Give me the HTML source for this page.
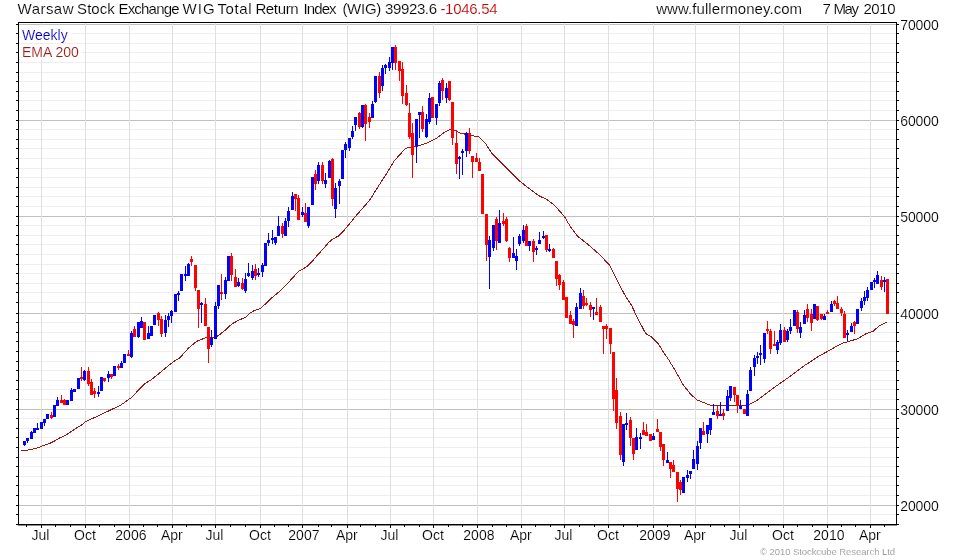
<!DOCTYPE html>
<html><head><meta charset="utf-8"><title>WIG</title>
<style>
html,body{margin:0;padding:0;background:#fff;}
body{width:980px;height:560px;overflow:hidden;font-family:"Liberation Sans",sans-serif;}
svg{display:block;will-change:transform;opacity:0.999}
svg text{font-family:"Liberation Sans",sans-serif;stroke:#fff;stroke-width:0.15px;}
</style></head><body>
<svg width="980" height="560" viewBox="0 0 980 560">
<rect width="980" height="560" fill="#fff"/>
<g stroke="#eeeeee" stroke-width="1" shape-rendering="crispEdges">
<line x1="19" y1="514.5" x2="896" y2="514.5"/><line x1="19" y1="495.5" x2="896" y2="495.5"/><line x1="19" y1="485.5" x2="896" y2="485.5"/><line x1="19" y1="476.5" x2="896" y2="476.5"/><line x1="19" y1="466.5" x2="896" y2="466.5"/><line x1="19" y1="457.5" x2="896" y2="457.5"/><line x1="19" y1="447.5" x2="896" y2="447.5"/><line x1="19" y1="437.5" x2="896" y2="437.5"/><line x1="19" y1="428.5" x2="896" y2="428.5"/><line x1="19" y1="418.5" x2="896" y2="418.5"/><line x1="19" y1="399.5" x2="896" y2="399.5"/><line x1="19" y1="389.5" x2="896" y2="389.5"/><line x1="19" y1="380.5" x2="896" y2="380.5"/><line x1="19" y1="370.5" x2="896" y2="370.5"/><line x1="19" y1="361.5" x2="896" y2="361.5"/><line x1="19" y1="351.5" x2="896" y2="351.5"/><line x1="19" y1="341.5" x2="896" y2="341.5"/><line x1="19" y1="332.5" x2="896" y2="332.5"/><line x1="19" y1="322.5" x2="896" y2="322.5"/><line x1="19" y1="302.5" x2="896" y2="302.5"/><line x1="19" y1="292.5" x2="896" y2="292.5"/><line x1="19" y1="283.5" x2="896" y2="283.5"/><line x1="19" y1="273.5" x2="896" y2="273.5"/><line x1="19" y1="264.5" x2="896" y2="264.5"/><line x1="19" y1="254.5" x2="896" y2="254.5"/><line x1="19" y1="244.5" x2="896" y2="244.5"/><line x1="19" y1="235.5" x2="896" y2="235.5"/><line x1="19" y1="225.5" x2="896" y2="225.5"/><line x1="19" y1="206.5" x2="896" y2="206.5"/><line x1="19" y1="196.5" x2="896" y2="196.5"/><line x1="19" y1="187.5" x2="896" y2="187.5"/><line x1="19" y1="177.5" x2="896" y2="177.5"/><line x1="19" y1="168.5" x2="896" y2="168.5"/><line x1="19" y1="158.5" x2="896" y2="158.5"/><line x1="19" y1="148.5" x2="896" y2="148.5"/><line x1="19" y1="139.5" x2="896" y2="139.5"/><line x1="19" y1="129.5" x2="896" y2="129.5"/><line x1="19" y1="110.5" x2="896" y2="110.5"/><line x1="19" y1="100.5" x2="896" y2="100.5"/><line x1="19" y1="91.5" x2="896" y2="91.5"/><line x1="19" y1="81.5" x2="896" y2="81.5"/><line x1="19" y1="72.5" x2="896" y2="72.5"/><line x1="19" y1="62.5" x2="896" y2="62.5"/><line x1="19" y1="52.5" x2="896" y2="52.5"/><line x1="19" y1="43.5" x2="896" y2="43.5"/><line x1="19" y1="33.5" x2="896" y2="33.5"/>
</g>
<g stroke="#c0c0c0" stroke-width="1" shape-rendering="crispEdges">
<line x1="19" y1="505.5" x2="896" y2="505.5"/><line x1="19" y1="409.5" x2="896" y2="409.5"/><line x1="19" y1="313.5" x2="896" y2="313.5"/><line x1="19" y1="216.5" x2="896" y2="216.5"/><line x1="19" y1="120.5" x2="896" y2="120.5"/><line x1="19" y1="24.5" x2="896" y2="24.5"/>
</g>
<g stroke="#dfdfdf" stroke-width="1" shape-rendering="crispEdges">
<line x1="41.5" y1="23" x2="41.5" y2="524"/><line x1="85.5" y1="23" x2="85.5" y2="524"/><line x1="129.5" y1="23" x2="129.5" y2="524"/><line x1="172.5" y1="23" x2="172.5" y2="524"/><line x1="215.5" y1="23" x2="215.5" y2="524"/><line x1="260.5" y1="23" x2="260.5" y2="524"/><line x1="302.5" y1="23" x2="302.5" y2="524"/><line x1="347.5" y1="23" x2="347.5" y2="524"/><line x1="390.5" y1="23" x2="390.5" y2="524"/><line x1="433.5" y1="23" x2="433.5" y2="524"/><line x1="477.5" y1="23" x2="477.5" y2="524"/><line x1="521.5" y1="23" x2="521.5" y2="524"/><line x1="564.5" y1="23" x2="564.5" y2="524"/><line x1="608.5" y1="23" x2="608.5" y2="524"/><line x1="653.5" y1="23" x2="653.5" y2="524"/><line x1="695.5" y1="23" x2="695.5" y2="524"/><line x1="739.5" y1="23" x2="739.5" y2="524"/><line x1="783.5" y1="23" x2="783.5" y2="524"/><line x1="827.5" y1="23" x2="827.5" y2="524"/><line x1="870.5" y1="23" x2="870.5" y2="524"/>
</g>
<rect x="19" y="26" width="52" height="17" fill="#fff"/><rect x="19" y="44" width="63" height="15.5" fill="#fff"/>
<polyline points="21.0,450.5 26.0,450.4 30.0,449.7 34.0,448.7 38.0,447.7 41.5,446.3 45.0,445.0 48.0,444.0 51.0,442.8 54.0,441.3 57.0,439.6 60.0,437.8 63.0,436.5 66.0,435.0 69.0,433.0 72.0,431.0 75.0,429.0 78.0,427.0 81.0,425.5 85.9,421.5 98.0,416.0 112.0,409.3 120.9,405.0 130.9,397.9 145.0,383.6 150.9,380.0 158.0,374.3 162.3,370.7 173.7,361.4 179.4,358.3 188.0,348.6 196.6,341.4 206.6,337.4 215.1,337.9 220.9,333.6 226.0,329.6 232.0,323.8 240.0,319.6 245.7,317.5 249.4,313.4 253.6,311.0 260.9,308.3 270.9,298.6 280.9,290.3 289.4,281.4 298.6,271.4 302.9,268.9 307.1,266.4 312.9,260.7 317.1,255.4 322.9,249.3 328.6,242.6 332.9,238.9 338.6,236.0 344.3,230.0 347.9,225.7 357.9,213.6 369.3,200.7 377.9,187.0 387.0,172.9 394.3,160.7 405.7,148.3 417.0,146.4 427.0,142.9 437.0,137.9 444.3,132.4 448.6,130.0 452.0,129.0 460.0,132.9 468.6,135.0 478.6,136.9 485.7,143.6 491.4,152.9 501.4,162.9 508.6,170.0 520.0,181.4 532.9,191.4 540.0,196.4 545.7,198.6 554.3,205.0 564.3,216.4 570.0,226.0 577.0,235.7 588.6,245.0 600.0,255.0 610.0,265.7 619.3,285.0 625.7,296.4 631.4,305.0 637.0,317.0 645.7,333.6 651.4,336.7 658.6,344.3 664.3,353.6 667.0,357.0 675.7,371.4 682.9,384.3 690.0,393.6 697.0,400.0 710.0,405.0 725.7,406.0 747.0,405.3 755.7,401.4 764.3,395.0 775.7,386.4 790.0,376.4 804.3,365.7 818.6,356.4 830.0,350.0 841.4,343.6 848.6,341.4 857.0,339.0 865.7,333.9 872.9,331.4 878.6,326.4 887.0,321.9" fill="none" stroke="#9a1616" stroke-width="1" stroke-linejoin="round" shape-rendering="crispEdges"/>
<g fill="#0000ff" shape-rendering="crispEdges">
<rect x="24.00" y="441.0" width="1" height="5.4"/><rect x="23.00" y="441.0" width="3" height="3.6"/>
<rect x="27.00" y="438.3" width="1" height="4.2"/><rect x="26.00" y="438.3" width="3" height="2.7"/>
<rect x="31.00" y="431.0" width="1" height="7.5"/><rect x="30.00" y="431.7" width="3" height="6.8"/>
<rect x="34.00" y="428.3" width="1" height="5.0"/><rect x="33.00" y="428.3" width="3" height="5.0"/>
<rect x="37.00" y="423.0" width="1" height="6.7"/><rect x="36.00" y="427.9" width="3" height="1.8"/>
<rect x="41.00" y="422.0" width="1" height="7.3"/><rect x="40.00" y="422.0" width="3" height="7.3"/>
<rect x="44.00" y="418.9" width="1" height="7.5"/><rect x="43.00" y="418.9" width="3" height="4.1"/>
<rect x="47.00" y="413.6" width="1" height="5.7"/><rect x="46.00" y="413.6" width="3" height="5.7"/>
<rect x="54.00" y="404.7" width="1" height="12.0"/><rect x="53.00" y="404.7" width="3" height="12.0"/>
<rect x="57.00" y="396.9" width="1" height="8.8"/><rect x="56.00" y="399.7" width="3" height="6.0"/>
<rect x="67.00" y="400.0" width="1" height="4.7"/><rect x="66.00" y="400.0" width="3" height="4.7"/>
<rect x="71.00" y="388.3" width="1" height="12.4"/><rect x="70.00" y="390.0" width="3" height="10.7"/>
<rect x="74.00" y="388.9" width="1" height="3.2"/><rect x="73.00" y="388.9" width="3" height="3.2"/>
<rect x="78.00" y="377.9" width="1" height="11.0"/><rect x="77.00" y="377.9" width="3" height="11.0"/>
<rect x="84.00" y="370.0" width="1" height="10.6"/><rect x="83.00" y="371.4" width="3" height="8.9"/>
<rect x="98.00" y="386.4" width="1" height="10.3"/><rect x="97.00" y="392.0" width="3" height="1.6"/>
<rect x="101.00" y="377.0" width="1" height="13.7"/><rect x="100.00" y="377.0" width="3" height="13.7"/>
<rect x="108.00" y="371.4" width="1" height="10.3"/><rect x="107.00" y="374.3" width="3" height="3.6"/>
<rect x="114.00" y="366.0" width="1" height="9.7"/><rect x="113.00" y="366.0" width="3" height="9.7"/>
<rect x="121.00" y="361.0" width="1" height="6.9"/><rect x="120.00" y="362.9" width="3" height="5.0"/>
<rect x="124.00" y="354.0" width="1" height="8.9"/><rect x="123.00" y="354.0" width="3" height="8.9"/>
<rect x="131.00" y="330.7" width="1" height="27.2"/><rect x="130.00" y="332.9" width="3" height="24.1"/>
<rect x="138.00" y="321.7" width="1" height="16.6"/><rect x="137.00" y="321.7" width="3" height="15.7"/>
<rect x="141.00" y="317.0" width="1" height="10.9"/><rect x="140.00" y="321.4" width="3" height="6.5"/>
<rect x="148.00" y="326.0" width="1" height="12.9"/><rect x="147.00" y="333.0" width="3" height="5.9"/>
<rect x="151.00" y="326.0" width="1" height="9.7"/><rect x="150.00" y="326.0" width="3" height="9.7"/>
<rect x="154.00" y="314.7" width="1" height="10.0"/><rect x="153.00" y="314.7" width="3" height="10.0"/>
<rect x="165.00" y="315.0" width="1" height="21.9"/><rect x="164.00" y="320.0" width="3" height="12.6"/>
<rect x="168.00" y="313.3" width="1" height="13.6"/><rect x="167.00" y="315.7" width="3" height="4.3"/>
<rect x="171.00" y="310.0" width="1" height="12.9"/><rect x="170.00" y="310.7" width="3" height="5.3"/>
<rect x="175.00" y="293.6" width="1" height="18.1"/><rect x="174.00" y="294.3" width="3" height="17.4"/>
<rect x="178.00" y="290.7" width="1" height="10.0"/><rect x="177.00" y="292.6" width="3" height="2.4"/>
<rect x="181.00" y="273.6" width="1" height="17.1"/><rect x="180.00" y="273.6" width="3" height="17.1"/>
<rect x="185.00" y="265.7" width="1" height="15.0"/><rect x="184.00" y="274.0" width="3" height="2.0"/>
<rect x="188.00" y="262.9" width="1" height="12.8"/><rect x="187.00" y="263.6" width="3" height="12.1"/>
<rect x="201.00" y="302.0" width="1" height="20.9"/><rect x="200.00" y="302.6" width="3" height="2.0"/>
<rect x="211.00" y="330.0" width="1" height="16.9"/><rect x="210.00" y="338.3" width="3" height="7.1"/>
<rect x="215.00" y="301.7" width="1" height="37.2"/><rect x="214.00" y="305.7" width="3" height="33.2"/>
<rect x="218.00" y="284.6" width="1" height="24.1"/><rect x="217.00" y="284.6" width="3" height="21.4"/>
<rect x="225.00" y="277.0" width="1" height="22.3"/><rect x="224.00" y="280.0" width="3" height="14.0"/>
<rect x="228.00" y="256.4" width="1" height="25.0"/><rect x="227.00" y="256.4" width="3" height="25.0"/>
<rect x="238.00" y="278.3" width="1" height="8.7"/><rect x="237.00" y="282.0" width="3" height="4.4"/>
<rect x="245.00" y="273.0" width="1" height="19.9"/><rect x="244.00" y="278.9" width="3" height="11.8"/>
<rect x="248.00" y="262.9" width="1" height="14.0"/><rect x="247.00" y="273.0" width="3" height="3.4"/>
<rect x="252.00" y="265.4" width="1" height="14.6"/><rect x="251.00" y="271.0" width="3" height="6.9"/>
<rect x="258.00" y="268.3" width="1" height="8.6"/><rect x="257.00" y="273.0" width="3" height="2.4"/>
<rect x="262.00" y="263.0" width="1" height="13.9"/><rect x="261.00" y="265.0" width="3" height="7.0"/>
<rect x="265.00" y="242.6" width="1" height="23.1"/><rect x="264.00" y="242.6" width="3" height="23.1"/>
<rect x="268.00" y="233.3" width="1" height="13.1"/><rect x="267.00" y="240.0" width="3" height="2.9"/>
<rect x="272.00" y="230.0" width="1" height="13.6"/><rect x="271.00" y="237.9" width="3" height="2.1"/>
<rect x="275.00" y="237.0" width="1" height="8.0"/><rect x="274.00" y="237.0" width="3" height="5.9"/>
<rect x="278.00" y="216.0" width="1" height="19.7"/><rect x="277.00" y="226.0" width="3" height="9.7"/>
<rect x="285.00" y="217.9" width="1" height="18.1"/><rect x="284.00" y="221.0" width="3" height="15.0"/>
<rect x="288.00" y="207.0" width="1" height="19.7"/><rect x="287.00" y="210.7" width="3" height="10.3"/>
<rect x="292.00" y="191.9" width="1" height="18.1"/><rect x="291.00" y="195.7" width="3" height="14.3"/>
<rect x="302.00" y="207.0" width="1" height="9.7"/><rect x="301.00" y="212.0" width="3" height="3.0"/>
<rect x="308.00" y="206.7" width="1" height="21.2"/><rect x="307.00" y="206.7" width="3" height="19.0"/>
<rect x="312.00" y="177.0" width="1" height="28.0"/><rect x="311.00" y="177.0" width="3" height="28.0"/>
<rect x="318.00" y="161.9" width="1" height="21.7"/><rect x="317.00" y="165.0" width="3" height="16.4"/>
<rect x="325.00" y="172.9" width="1" height="15.0"/><rect x="324.00" y="180.0" width="3" height="4.3"/>
<rect x="329.00" y="160.0" width="1" height="17.9"/><rect x="328.00" y="161.4" width="3" height="16.5"/>
<rect x="335.00" y="183.3" width="1" height="34.6"/><rect x="334.00" y="187.9" width="3" height="21.1"/>
<rect x="339.00" y="179.0" width="1" height="24.9"/><rect x="338.00" y="181.0" width="3" height="4.7"/>
<rect x="342.00" y="150.0" width="1" height="29.0"/><rect x="341.00" y="150.0" width="3" height="29.0"/>
<rect x="345.00" y="141.9" width="1" height="16.0"/><rect x="344.00" y="144.0" width="3" height="6.0"/>
<rect x="349.00" y="137.9" width="1" height="13.1"/><rect x="348.00" y="137.9" width="3" height="10.0"/>
<rect x="352.00" y="125.7" width="1" height="13.3"/><rect x="351.00" y="130.7" width="3" height="6.3"/>
<rect x="355.00" y="117.0" width="1" height="14.4"/><rect x="354.00" y="117.0" width="3" height="8.0"/>
<rect x="362.00" y="105.0" width="1" height="23.0"/><rect x="361.00" y="105.0" width="3" height="22.0"/>
<rect x="372.00" y="101.0" width="1" height="16.9"/><rect x="371.00" y="103.6" width="3" height="14.3"/>
<rect x="375.00" y="76.0" width="1" height="26.9"/><rect x="374.00" y="76.0" width="3" height="25.9"/>
<rect x="382.00" y="65.0" width="1" height="25.7"/><rect x="381.00" y="68.0" width="3" height="17.7"/>
<rect x="385.00" y="64.0" width="1" height="9.6"/><rect x="384.00" y="65.0" width="3" height="2.9"/>
<rect x="389.00" y="57.0" width="1" height="13.7"/><rect x="388.00" y="62.0" width="3" height="5.9"/>
<rect x="392.00" y="47.0" width="1" height="22.7"/><rect x="391.00" y="47.0" width="3" height="15.9"/>
<rect x="416.00" y="119.0" width="1" height="43.9"/><rect x="415.00" y="119.0" width="3" height="27.0"/>
<rect x="419.00" y="111.9" width="1" height="26.0"/><rect x="418.00" y="112.4" width="3" height="2.3"/>
<rect x="426.00" y="113.6" width="1" height="24.3"/><rect x="425.00" y="119.0" width="3" height="18.0"/>
<rect x="429.00" y="92.9" width="1" height="31.1"/><rect x="428.00" y="97.9" width="3" height="24.1"/>
<rect x="436.00" y="104.3" width="1" height="20.7"/><rect x="435.00" y="104.3" width="3" height="13.6"/>
<rect x="439.00" y="81.0" width="1" height="24.7"/><rect x="438.00" y="82.9" width="3" height="20.0"/>
<rect x="446.00" y="82.9" width="1" height="20.0"/><rect x="445.00" y="87.9" width="3" height="10.0"/>
<rect x="459.00" y="155.7" width="1" height="22.9"/><rect x="458.00" y="156.7" width="3" height="1.9"/>
<rect x="462.00" y="149.0" width="1" height="26.0"/><rect x="461.00" y="150.7" width="3" height="2.6"/>
<rect x="466.00" y="131.9" width="1" height="25.1"/><rect x="465.00" y="132.9" width="3" height="17.8"/>
<rect x="489.00" y="235.7" width="1" height="52.9"/><rect x="488.00" y="240.0" width="3" height="16.7"/>
<rect x="493.00" y="225.0" width="1" height="25.7"/><rect x="492.00" y="225.0" width="3" height="22.6"/>
<rect x="499.00" y="210.0" width="1" height="32.9"/><rect x="498.00" y="222.9" width="3" height="20.0"/>
<rect x="513.00" y="237.0" width="1" height="20.9"/><rect x="512.00" y="253.3" width="3" height="4.3"/>
<rect x="516.00" y="249.0" width="1" height="20.6"/><rect x="515.00" y="256.0" width="3" height="4.7"/>
<rect x="519.00" y="233.9" width="1" height="11.8"/><rect x="518.00" y="236.0" width="3" height="7.9"/>
<rect x="523.00" y="225.0" width="1" height="17.9"/><rect x="522.00" y="230.4" width="3" height="10.3"/>
<rect x="529.00" y="241.0" width="1" height="10.4"/><rect x="528.00" y="241.0" width="3" height="5.0"/>
<rect x="536.00" y="246.4" width="1" height="8.3"/><rect x="535.00" y="247.9" width="3" height="2.1"/>
<rect x="539.00" y="231.9" width="1" height="12.4"/><rect x="538.00" y="240.0" width="3" height="3.9"/>
<rect x="543.00" y="231.0" width="1" height="8.0"/><rect x="542.00" y="235.7" width="3" height="2.3"/>
<rect x="549.00" y="243.9" width="1" height="8.1"/><rect x="548.00" y="249.0" width="3" height="2.0"/>
<rect x="576.00" y="303.3" width="1" height="22.4"/><rect x="575.00" y="307.0" width="3" height="18.7"/>
<rect x="580.00" y="288.0" width="1" height="20.6"/><rect x="579.00" y="292.9" width="3" height="15.7"/>
<rect x="593.00" y="307.0" width="1" height="12.7"/><rect x="592.00" y="307.0" width="3" height="2.0"/>
<rect x="623.00" y="424.3" width="1" height="41.4"/><rect x="622.00" y="424.3" width="3" height="37.4"/>
<rect x="626.00" y="413.3" width="1" height="16.4"/><rect x="625.00" y="422.6" width="3" height="2.0"/>
<rect x="636.00" y="428.3" width="1" height="21.4"/><rect x="635.00" y="437.4" width="3" height="12.3"/>
<rect x="640.00" y="433.0" width="1" height="15.6"/><rect x="639.00" y="436.9" width="3" height="2.0"/>
<rect x="653.00" y="433.0" width="1" height="6.7"/><rect x="652.00" y="436.0" width="3" height="3.7"/>
<rect x="667.00" y="452.0" width="1" height="10.6"/><rect x="666.00" y="460.3" width="3" height="2.3"/>
<rect x="683.00" y="476.9" width="1" height="15.7"/><rect x="682.00" y="476.9" width="3" height="15.7"/>
<rect x="687.00" y="470.3" width="1" height="11.4"/><rect x="686.00" y="475.4" width="3" height="2.5"/>
<rect x="690.00" y="471.4" width="1" height="7.2"/><rect x="689.00" y="471.4" width="3" height="2.2"/>
<rect x="693.00" y="450.3" width="1" height="18.3"/><rect x="692.00" y="459.3" width="3" height="9.3"/>
<rect x="697.00" y="441.4" width="1" height="28.3"/><rect x="696.00" y="446.0" width="3" height="17.6"/>
<rect x="700.00" y="428.3" width="1" height="20.3"/><rect x="699.00" y="428.3" width="3" height="14.3"/>
<rect x="707.00" y="425.4" width="1" height="17.2"/><rect x="706.00" y="425.4" width="3" height="8.2"/>
<rect x="710.00" y="418.0" width="1" height="17.4"/><rect x="709.00" y="418.0" width="3" height="11.7"/>
<rect x="713.00" y="403.9" width="1" height="10.8"/><rect x="712.00" y="411.9" width="3" height="2.8"/>
<rect x="720.00" y="402.0" width="1" height="13.7"/><rect x="719.00" y="414.0" width="3" height="1.7"/>
<rect x="727.00" y="390.4" width="1" height="20.3"/><rect x="726.00" y="395.7" width="3" height="15.0"/>
<rect x="730.00" y="386.0" width="1" height="14.7"/><rect x="729.00" y="386.0" width="3" height="11.6"/>
<rect x="740.00" y="400.0" width="1" height="8.6"/><rect x="739.00" y="406.4" width="3" height="2.2"/>
<rect x="747.00" y="390.4" width="1" height="25.6"/><rect x="746.00" y="393.9" width="3" height="22.1"/>
<rect x="750.00" y="367.0" width="1" height="23.7"/><rect x="749.00" y="369.6" width="3" height="21.1"/>
<rect x="754.00" y="355.0" width="1" height="20.7"/><rect x="753.00" y="357.9" width="3" height="8.8"/>
<rect x="757.00" y="352.0" width="1" height="12.3"/><rect x="756.00" y="356.0" width="3" height="1.9"/>
<rect x="760.00" y="345.0" width="1" height="19.7"/><rect x="759.00" y="352.9" width="3" height="2.1"/>
<rect x="764.00" y="332.9" width="1" height="30.0"/><rect x="763.00" y="332.9" width="3" height="25.7"/>
<rect x="777.00" y="340.0" width="1" height="13.6"/><rect x="776.00" y="342.4" width="3" height="7.6"/>
<rect x="780.00" y="324.0" width="1" height="21.0"/><rect x="779.00" y="329.6" width="3" height="13.3"/>
<rect x="787.00" y="329.3" width="1" height="12.6"/><rect x="786.00" y="331.4" width="3" height="8.6"/>
<rect x="790.00" y="319.0" width="1" height="14.9"/><rect x="789.00" y="327.0" width="3" height="4.0"/>
<rect x="794.00" y="309.7" width="1" height="16.0"/><rect x="793.00" y="309.7" width="3" height="16.0"/>
<rect x="800.00" y="322.0" width="1" height="15.6"/><rect x="799.00" y="327.0" width="3" height="5.9"/>
<rect x="804.00" y="310.0" width="1" height="13.6"/><rect x="803.00" y="315.0" width="3" height="8.6"/>
<rect x="814.00" y="304.0" width="1" height="15.0"/><rect x="813.00" y="304.0" width="3" height="15.0"/>
<rect x="824.00" y="313.9" width="1" height="5.7"/><rect x="823.00" y="315.7" width="3" height="3.9"/>
<rect x="831.00" y="301.0" width="1" height="10.9"/><rect x="830.00" y="304.0" width="3" height="7.9"/>
<rect x="847.00" y="330.0" width="1" height="10.7"/><rect x="846.00" y="332.9" width="3" height="1.8"/>
<rect x="851.00" y="322.9" width="1" height="9.0"/><rect x="850.00" y="325.7" width="3" height="6.2"/>
<rect x="857.00" y="309.0" width="1" height="15.3"/><rect x="856.00" y="309.0" width="3" height="15.3"/>
<rect x="861.00" y="297.9" width="1" height="12.8"/><rect x="860.00" y="301.0" width="3" height="7.0"/>
<rect x="864.00" y="291.0" width="1" height="14.0"/><rect x="863.00" y="297.0" width="3" height="4.4"/>
<rect x="867.00" y="287.0" width="1" height="13.7"/><rect x="866.00" y="290.0" width="3" height="7.6"/>
<rect x="871.00" y="281.9" width="1" height="8.1"/><rect x="870.00" y="281.9" width="3" height="8.1"/>
<rect x="874.00" y="278.0" width="1" height="9.9"/><rect x="873.00" y="280.0" width="3" height="2.0"/>
<rect x="877.00" y="271.0" width="1" height="12.6"/><rect x="876.00" y="275.0" width="3" height="8.6"/>
<rect x="884.00" y="276.7" width="1" height="15.2"/><rect x="883.00" y="279.6" width="3" height="2.3"/>
</g>
<g fill="#ff0000" shape-rendering="crispEdges">
<rect x="51.00" y="412.0" width="1" height="6.6"/><rect x="50.00" y="415.0" width="3" height="3.3"/>
<rect x="61.00" y="395.4" width="1" height="7.2"/><rect x="60.00" y="400.0" width="3" height="2.6"/>
<rect x="64.00" y="399.3" width="1" height="5.4"/><rect x="63.00" y="400.0" width="3" height="4.7"/>
<rect x="81.00" y="366.8" width="1" height="13.9"/><rect x="80.00" y="377.0" width="3" height="2.0"/>
<rect x="88.00" y="366.8" width="1" height="18.9"/><rect x="87.00" y="370.7" width="3" height="13.6"/>
<rect x="91.00" y="379.3" width="1" height="16.1"/><rect x="90.00" y="382.0" width="3" height="13.4"/>
<rect x="94.00" y="387.9" width="1" height="9.7"/><rect x="93.00" y="390.7" width="3" height="2.9"/>
<rect x="104.00" y="378.3" width="1" height="3.2"/><rect x="103.00" y="378.3" width="3" height="2.7"/>
<rect x="111.00" y="373.6" width="1" height="5.3"/><rect x="110.00" y="373.6" width="3" height="3.4"/>
<rect x="118.00" y="364.0" width="1" height="5.7"/><rect x="117.00" y="365.7" width="3" height="2.2"/>
<rect x="128.00" y="350.0" width="1" height="5.7"/><rect x="127.00" y="354.0" width="3" height="1.7"/>
<rect x="134.00" y="326.0" width="1" height="10.9"/><rect x="133.00" y="328.6" width="3" height="8.3"/>
<rect x="144.00" y="321.7" width="1" height="18.0"/><rect x="143.00" y="321.7" width="3" height="18.0"/>
<rect x="158.00" y="311.9" width="1" height="13.8"/><rect x="157.00" y="312.9" width="3" height="6.8"/>
<rect x="161.00" y="316.0" width="1" height="20.9"/><rect x="160.00" y="318.6" width="3" height="15.4"/>
<rect x="191.00" y="255.7" width="1" height="10.7"/><rect x="190.00" y="258.6" width="3" height="3.4"/>
<rect x="195.00" y="265.0" width="1" height="25.7"/><rect x="194.00" y="265.0" width="3" height="22.9"/>
<rect x="198.00" y="290.0" width="1" height="37.9"/><rect x="197.00" y="290.0" width="3" height="18.7"/>
<rect x="205.00" y="297.9" width="1" height="28.1"/><rect x="204.00" y="304.0" width="3" height="22.0"/>
<rect x="208.00" y="326.9" width="1" height="36.0"/><rect x="207.00" y="326.9" width="3" height="22.0"/>
<rect x="221.00" y="274.0" width="1" height="25.7"/><rect x="220.00" y="292.0" width="3" height="2.0"/>
<rect x="231.00" y="253.0" width="1" height="27.7"/><rect x="230.00" y="256.0" width="3" height="19.0"/>
<rect x="235.00" y="269.3" width="1" height="17.6"/><rect x="234.00" y="277.0" width="3" height="9.9"/>
<rect x="242.00" y="278.3" width="1" height="11.7"/><rect x="241.00" y="282.9" width="3" height="5.7"/>
<rect x="255.00" y="264.3" width="1" height="15.7"/><rect x="254.00" y="269.0" width="3" height="7.4"/>
<rect x="282.00" y="222.9" width="1" height="15.0"/><rect x="281.00" y="226.0" width="3" height="7.9"/>
<rect x="295.00" y="194.3" width="1" height="17.1"/><rect x="294.00" y="194.3" width="3" height="4.3"/>
<rect x="298.00" y="195.0" width="1" height="25.0"/><rect x="297.00" y="197.9" width="3" height="22.1"/>
<rect x="305.00" y="202.9" width="1" height="19.0"/><rect x="304.00" y="213.3" width="3" height="8.6"/>
<rect x="315.00" y="170.0" width="1" height="20.0"/><rect x="314.00" y="173.9" width="3" height="9.7"/>
<rect x="322.00" y="162.0" width="1" height="21.6"/><rect x="321.00" y="165.0" width="3" height="16.0"/>
<rect x="332.00" y="158.0" width="1" height="47.7"/><rect x="331.00" y="158.6" width="3" height="40.4"/>
<rect x="359.00" y="111.9" width="1" height="17.1"/><rect x="358.00" y="112.9" width="3" height="14.1"/>
<rect x="365.00" y="103.6" width="1" height="37.4"/><rect x="364.00" y="104.7" width="3" height="18.9"/>
<rect x="369.00" y="112.9" width="1" height="15.1"/><rect x="368.00" y="117.0" width="3" height="4.9"/>
<rect x="379.00" y="72.0" width="1" height="25.9"/><rect x="378.00" y="75.7" width="3" height="17.2"/>
<rect x="395.00" y="45.0" width="1" height="24.7"/><rect x="394.00" y="47.0" width="3" height="15.9"/>
<rect x="399.00" y="61.0" width="1" height="19.7"/><rect x="398.00" y="61.4" width="3" height="9.3"/>
<rect x="402.00" y="62.0" width="1" height="42.0"/><rect x="401.00" y="69.0" width="3" height="26.7"/>
<rect x="406.00" y="85.0" width="1" height="20.7"/><rect x="405.00" y="92.9" width="3" height="12.1"/>
<rect x="409.00" y="102.9" width="1" height="36.1"/><rect x="408.00" y="112.9" width="3" height="24.1"/>
<rect x="412.00" y="122.9" width="1" height="55.0"/><rect x="411.00" y="132.9" width="3" height="22.1"/>
<rect x="422.00" y="105.7" width="1" height="26.3"/><rect x="421.00" y="111.9" width="3" height="17.1"/>
<rect x="432.00" y="97.0" width="1" height="20.9"/><rect x="431.00" y="97.0" width="3" height="20.9"/>
<rect x="442.00" y="77.9" width="1" height="22.1"/><rect x="441.00" y="80.0" width="3" height="10.7"/>
<rect x="449.00" y="81.4" width="1" height="19.6"/><rect x="448.00" y="81.4" width="3" height="18.6"/>
<rect x="452.00" y="101.9" width="1" height="43.1"/><rect x="451.00" y="101.9" width="3" height="36.0"/>
<rect x="456.00" y="130.0" width="1" height="43.6"/><rect x="455.00" y="143.0" width="3" height="20.6"/>
<rect x="469.00" y="127.9" width="1" height="26.0"/><rect x="468.00" y="133.0" width="3" height="17.7"/>
<rect x="472.00" y="156.0" width="1" height="21.9"/><rect x="471.00" y="156.0" width="3" height="5.9"/>
<rect x="476.00" y="152.9" width="1" height="9.5"/><rect x="475.00" y="157.9" width="3" height="4.5"/>
<rect x="479.00" y="157.9" width="1" height="12.8"/><rect x="478.00" y="161.9" width="3" height="8.8"/>
<rect x="482.00" y="173.6" width="1" height="40.0"/><rect x="481.00" y="173.6" width="3" height="40.0"/>
<rect x="486.00" y="214.0" width="1" height="46.7"/><rect x="485.00" y="214.0" width="3" height="30.7"/>
<rect x="496.00" y="216.9" width="1" height="32.7"/><rect x="495.00" y="218.6" width="3" height="22.1"/>
<rect x="503.00" y="212.9" width="1" height="13.5"/><rect x="502.00" y="221.0" width="3" height="3.3"/>
<rect x="506.00" y="217.0" width="1" height="25.0"/><rect x="505.00" y="218.6" width="3" height="22.4"/>
<rect x="509.00" y="246.7" width="1" height="15.2"/><rect x="508.00" y="247.9" width="3" height="10.0"/>
<rect x="526.00" y="224.0" width="1" height="21.7"/><rect x="525.00" y="226.0" width="3" height="19.7"/>
<rect x="533.00" y="239.0" width="1" height="22.9"/><rect x="532.00" y="241.0" width="3" height="11.4"/>
<rect x="546.00" y="235.0" width="1" height="16.9"/><rect x="545.00" y="235.0" width="3" height="14.6"/>
<rect x="553.00" y="247.6" width="1" height="10.3"/><rect x="552.00" y="248.6" width="3" height="9.3"/>
<rect x="556.00" y="261.0" width="1" height="24.7"/><rect x="555.00" y="261.0" width="3" height="17.6"/>
<rect x="559.00" y="273.6" width="1" height="16.0"/><rect x="558.00" y="274.7" width="3" height="10.0"/>
<rect x="563.00" y="280.0" width="1" height="20.4"/><rect x="562.00" y="281.9" width="3" height="18.5"/>
<rect x="566.00" y="297.0" width="1" height="20.9"/><rect x="565.00" y="297.0" width="3" height="20.9"/>
<rect x="570.00" y="311.4" width="1" height="12.5"/><rect x="569.00" y="315.0" width="3" height="8.9"/>
<rect x="573.00" y="319.3" width="1" height="18.6"/><rect x="572.00" y="321.4" width="3" height="3.3"/>
<rect x="583.00" y="290.4" width="1" height="18.2"/><rect x="582.00" y="296.0" width="3" height="10.4"/>
<rect x="586.00" y="298.0" width="1" height="8.0"/><rect x="585.00" y="303.3" width="3" height="1.7"/>
<rect x="590.00" y="302.0" width="1" height="14.7"/><rect x="589.00" y="305.3" width="3" height="4.3"/>
<rect x="596.00" y="298.0" width="1" height="16.7"/><rect x="595.00" y="312.0" width="3" height="2.7"/>
<rect x="600.00" y="305.0" width="1" height="16.9"/><rect x="599.00" y="306.7" width="3" height="15.2"/>
<rect x="603.00" y="326.0" width="1" height="27.6"/><rect x="602.00" y="326.0" width="3" height="2.6"/>
<rect x="606.00" y="323.9" width="1" height="14.7"/><rect x="605.00" y="326.0" width="3" height="2.6"/>
<rect x="610.00" y="328.0" width="1" height="25.6"/><rect x="609.00" y="328.0" width="3" height="15.6"/>
<rect x="613.00" y="352.0" width="1" height="59.4"/><rect x="612.00" y="352.0" width="3" height="47.0"/>
<rect x="616.00" y="378.0" width="1" height="50.6"/><rect x="615.00" y="390.4" width="3" height="32.2"/>
<rect x="620.00" y="412.0" width="1" height="47.7"/><rect x="619.00" y="415.7" width="3" height="38.9"/>
<rect x="630.00" y="417.0" width="1" height="28.7"/><rect x="629.00" y="420.0" width="3" height="17.9"/>
<rect x="633.00" y="437.9" width="1" height="21.8"/><rect x="632.00" y="437.9" width="3" height="15.7"/>
<rect x="643.00" y="422.0" width="1" height="13.0"/><rect x="642.00" y="430.3" width="3" height="4.7"/>
<rect x="646.00" y="424.0" width="1" height="12.4"/><rect x="645.00" y="432.0" width="3" height="4.4"/>
<rect x="650.00" y="434.3" width="1" height="6.4"/><rect x="649.00" y="434.3" width="3" height="6.4"/>
<rect x="657.00" y="419.0" width="1" height="12.7"/><rect x="656.00" y="429.3" width="3" height="2.4"/>
<rect x="660.00" y="432.0" width="1" height="18.7"/><rect x="659.00" y="432.0" width="3" height="14.9"/>
<rect x="663.00" y="444.3" width="1" height="22.1"/><rect x="662.00" y="444.3" width="3" height="15.4"/>
<rect x="670.00" y="462.0" width="1" height="15.6"/><rect x="669.00" y="462.0" width="3" height="6.6"/>
<rect x="673.00" y="460.3" width="1" height="11.7"/><rect x="672.00" y="465.4" width="3" height="6.6"/>
<rect x="677.00" y="472.0" width="1" height="29.7"/><rect x="676.00" y="472.0" width="3" height="16.6"/>
<rect x="680.00" y="480.0" width="1" height="14.6"/><rect x="679.00" y="481.7" width="3" height="8.0"/>
<rect x="703.00" y="422.0" width="1" height="12.6"/><rect x="702.00" y="431.0" width="3" height="3.6"/>
<rect x="717.00" y="405.7" width="1" height="12.9"/><rect x="716.00" y="411.0" width="3" height="4.7"/>
<rect x="723.00" y="409.3" width="1" height="10.3"/><rect x="722.00" y="413.3" width="3" height="2.4"/>
<rect x="734.00" y="387.0" width="1" height="14.9"/><rect x="733.00" y="387.0" width="3" height="7.7"/>
<rect x="737.00" y="395.0" width="1" height="17.9"/><rect x="736.00" y="395.0" width="3" height="10.7"/>
<rect x="744.00" y="409.0" width="1" height="4.6"/><rect x="743.00" y="409.0" width="3" height="4.6"/>
<rect x="767.00" y="321.0" width="1" height="12.6"/><rect x="766.00" y="328.6" width="3" height="2.1"/>
<rect x="770.00" y="329.0" width="1" height="24.6"/><rect x="769.00" y="330.7" width="3" height="18.6"/>
<rect x="774.00" y="331.0" width="1" height="14.7"/><rect x="773.00" y="343.6" width="3" height="2.1"/>
<rect x="784.00" y="327.0" width="1" height="14.9"/><rect x="783.00" y="329.6" width="3" height="12.3"/>
<rect x="797.00" y="310.0" width="1" height="22.9"/><rect x="796.00" y="311.9" width="3" height="17.1"/>
<rect x="807.00" y="304.3" width="1" height="17.6"/><rect x="806.00" y="308.6" width="3" height="9.3"/>
<rect x="811.00" y="309.0" width="1" height="21.7"/><rect x="810.00" y="313.9" width="3" height="9.0"/>
<rect x="817.00" y="306.0" width="1" height="15.0"/><rect x="816.00" y="306.0" width="3" height="13.6"/>
<rect x="821.00" y="313.6" width="1" height="6.4"/><rect x="820.00" y="313.6" width="3" height="5.0"/>
<rect x="827.00" y="310.0" width="1" height="3.9"/><rect x="826.00" y="311.9" width="3" height="2.0"/>
<rect x="834.00" y="299.6" width="1" height="6.4"/><rect x="833.00" y="300.7" width="3" height="2.9"/>
<rect x="837.00" y="296.0" width="1" height="13.3"/><rect x="836.00" y="303.3" width="3" height="6.0"/>
<rect x="841.00" y="306.7" width="1" height="9.0"/><rect x="840.00" y="308.6" width="3" height="4.3"/>
<rect x="844.00" y="311.0" width="1" height="26.9"/><rect x="843.00" y="313.6" width="3" height="24.3"/>
<rect x="854.00" y="320.7" width="1" height="13.2"/><rect x="853.00" y="321.9" width="3" height="3.8"/>
<rect x="881.00" y="275.7" width="1" height="14.3"/><rect x="880.00" y="280.0" width="3" height="6.7"/>
<rect x="887.00" y="279.0" width="1" height="34.6"/><rect x="886.00" y="279.0" width="3" height="34.6"/>
</g>
<g stroke="#000" stroke-width="1" shape-rendering="crispEdges">
<line x1="18.5" y1="22" x2="18.5" y2="525"/><line x1="896.5" y1="22" x2="896.5" y2="525"/><line x1="18" y1="22.5" x2="897" y2="22.5"/><line x1="18" y1="525.5" x2="897" y2="525.5" stroke="#8a8a8a"/><line x1="16" y1="524.5" x2="899" y2="524.5"/>
<line x1="16" y1="514.5" x2="18" y2="514.5"/><line x1="897" y1="514.5" x2="899" y2="514.5"/><line x1="16" y1="505.5" x2="18" y2="505.5"/><line x1="897" y1="505.5" x2="899" y2="505.5"/><line x1="16" y1="495.5" x2="18" y2="495.5"/><line x1="897" y1="495.5" x2="899" y2="495.5"/><line x1="16" y1="485.5" x2="18" y2="485.5"/><line x1="897" y1="485.5" x2="899" y2="485.5"/><line x1="16" y1="476.5" x2="18" y2="476.5"/><line x1="897" y1="476.5" x2="899" y2="476.5"/><line x1="16" y1="466.5" x2="18" y2="466.5"/><line x1="897" y1="466.5" x2="899" y2="466.5"/><line x1="16" y1="457.5" x2="18" y2="457.5"/><line x1="897" y1="457.5" x2="899" y2="457.5"/><line x1="16" y1="447.5" x2="18" y2="447.5"/><line x1="897" y1="447.5" x2="899" y2="447.5"/><line x1="16" y1="437.5" x2="18" y2="437.5"/><line x1="897" y1="437.5" x2="899" y2="437.5"/><line x1="16" y1="428.5" x2="18" y2="428.5"/><line x1="897" y1="428.5" x2="899" y2="428.5"/><line x1="16" y1="418.5" x2="18" y2="418.5"/><line x1="897" y1="418.5" x2="899" y2="418.5"/><line x1="16" y1="409.5" x2="18" y2="409.5"/><line x1="897" y1="409.5" x2="899" y2="409.5"/><line x1="16" y1="399.5" x2="18" y2="399.5"/><line x1="897" y1="399.5" x2="899" y2="399.5"/><line x1="16" y1="389.5" x2="18" y2="389.5"/><line x1="897" y1="389.5" x2="899" y2="389.5"/><line x1="16" y1="380.5" x2="18" y2="380.5"/><line x1="897" y1="380.5" x2="899" y2="380.5"/><line x1="16" y1="370.5" x2="18" y2="370.5"/><line x1="897" y1="370.5" x2="899" y2="370.5"/><line x1="16" y1="361.5" x2="18" y2="361.5"/><line x1="897" y1="361.5" x2="899" y2="361.5"/><line x1="16" y1="351.5" x2="18" y2="351.5"/><line x1="897" y1="351.5" x2="899" y2="351.5"/><line x1="16" y1="341.5" x2="18" y2="341.5"/><line x1="897" y1="341.5" x2="899" y2="341.5"/><line x1="16" y1="332.5" x2="18" y2="332.5"/><line x1="897" y1="332.5" x2="899" y2="332.5"/><line x1="16" y1="322.5" x2="18" y2="322.5"/><line x1="897" y1="322.5" x2="899" y2="322.5"/><line x1="16" y1="313.5" x2="18" y2="313.5"/><line x1="897" y1="313.5" x2="899" y2="313.5"/><line x1="16" y1="302.5" x2="18" y2="302.5"/><line x1="897" y1="302.5" x2="899" y2="302.5"/><line x1="16" y1="292.5" x2="18" y2="292.5"/><line x1="897" y1="292.5" x2="899" y2="292.5"/><line x1="16" y1="283.5" x2="18" y2="283.5"/><line x1="897" y1="283.5" x2="899" y2="283.5"/><line x1="16" y1="273.5" x2="18" y2="273.5"/><line x1="897" y1="273.5" x2="899" y2="273.5"/><line x1="16" y1="264.5" x2="18" y2="264.5"/><line x1="897" y1="264.5" x2="899" y2="264.5"/><line x1="16" y1="254.5" x2="18" y2="254.5"/><line x1="897" y1="254.5" x2="899" y2="254.5"/><line x1="16" y1="244.5" x2="18" y2="244.5"/><line x1="897" y1="244.5" x2="899" y2="244.5"/><line x1="16" y1="235.5" x2="18" y2="235.5"/><line x1="897" y1="235.5" x2="899" y2="235.5"/><line x1="16" y1="225.5" x2="18" y2="225.5"/><line x1="897" y1="225.5" x2="899" y2="225.5"/><line x1="16" y1="216.5" x2="18" y2="216.5"/><line x1="897" y1="216.5" x2="899" y2="216.5"/><line x1="16" y1="206.5" x2="18" y2="206.5"/><line x1="897" y1="206.5" x2="899" y2="206.5"/><line x1="16" y1="196.5" x2="18" y2="196.5"/><line x1="897" y1="196.5" x2="899" y2="196.5"/><line x1="16" y1="187.5" x2="18" y2="187.5"/><line x1="897" y1="187.5" x2="899" y2="187.5"/><line x1="16" y1="177.5" x2="18" y2="177.5"/><line x1="897" y1="177.5" x2="899" y2="177.5"/><line x1="16" y1="168.5" x2="18" y2="168.5"/><line x1="897" y1="168.5" x2="899" y2="168.5"/><line x1="16" y1="158.5" x2="18" y2="158.5"/><line x1="897" y1="158.5" x2="899" y2="158.5"/><line x1="16" y1="148.5" x2="18" y2="148.5"/><line x1="897" y1="148.5" x2="899" y2="148.5"/><line x1="16" y1="139.5" x2="18" y2="139.5"/><line x1="897" y1="139.5" x2="899" y2="139.5"/><line x1="16" y1="129.5" x2="18" y2="129.5"/><line x1="897" y1="129.5" x2="899" y2="129.5"/><line x1="16" y1="120.5" x2="18" y2="120.5"/><line x1="897" y1="120.5" x2="899" y2="120.5"/><line x1="16" y1="110.5" x2="18" y2="110.5"/><line x1="897" y1="110.5" x2="899" y2="110.5"/><line x1="16" y1="100.5" x2="18" y2="100.5"/><line x1="897" y1="100.5" x2="899" y2="100.5"/><line x1="16" y1="91.5" x2="18" y2="91.5"/><line x1="897" y1="91.5" x2="899" y2="91.5"/><line x1="16" y1="81.5" x2="18" y2="81.5"/><line x1="897" y1="81.5" x2="899" y2="81.5"/><line x1="16" y1="72.5" x2="18" y2="72.5"/><line x1="897" y1="72.5" x2="899" y2="72.5"/><line x1="16" y1="62.5" x2="18" y2="62.5"/><line x1="897" y1="62.5" x2="899" y2="62.5"/><line x1="16" y1="52.5" x2="18" y2="52.5"/><line x1="897" y1="52.5" x2="899" y2="52.5"/><line x1="16" y1="43.5" x2="18" y2="43.5"/><line x1="897" y1="43.5" x2="899" y2="43.5"/><line x1="16" y1="33.5" x2="18" y2="33.5"/><line x1="897" y1="33.5" x2="899" y2="33.5"/><line x1="16" y1="24.5" x2="18" y2="24.5"/><line x1="897" y1="24.5" x2="899" y2="24.5"/>
<line x1="26.5" y1="525" x2="26.5" y2="527"/><line x1="41.5" y1="525" x2="41.5" y2="528"/><line x1="55.5" y1="525" x2="55.5" y2="527"/><line x1="70.5" y1="525" x2="70.5" y2="527"/><line x1="85.5" y1="525" x2="85.5" y2="528"/><line x1="99.5" y1="525" x2="99.5" y2="527"/><line x1="114.5" y1="525" x2="114.5" y2="527"/><line x1="129.5" y1="525" x2="129.5" y2="528"/><line x1="143.5" y1="525" x2="143.5" y2="527"/><line x1="157.5" y1="525" x2="157.5" y2="527"/><line x1="172.5" y1="525" x2="172.5" y2="528"/><line x1="186.5" y1="525" x2="186.5" y2="527"/><line x1="201.5" y1="525" x2="201.5" y2="527"/><line x1="215.5" y1="525" x2="215.5" y2="528"/><line x1="230.5" y1="525" x2="230.5" y2="527"/><line x1="245.5" y1="525" x2="245.5" y2="527"/><line x1="260.5" y1="525" x2="260.5" y2="528"/><line x1="274.5" y1="525" x2="274.5" y2="527"/><line x1="288.5" y1="525" x2="288.5" y2="527"/><line x1="302.5" y1="525" x2="302.5" y2="528"/><line x1="318.5" y1="525" x2="318.5" y2="527"/><line x1="331.5" y1="525" x2="331.5" y2="527"/><line x1="347.5" y1="525" x2="347.5" y2="528"/><line x1="360.5" y1="525" x2="360.5" y2="527"/><line x1="375.5" y1="525" x2="375.5" y2="527"/><line x1="390.5" y1="525" x2="390.5" y2="528"/><line x1="404.5" y1="525" x2="404.5" y2="527"/><line x1="419.5" y1="525" x2="419.5" y2="527"/><line x1="433.5" y1="525" x2="433.5" y2="528"/><line x1="448.5" y1="525" x2="448.5" y2="527"/><line x1="462.5" y1="525" x2="462.5" y2="527"/><line x1="477.5" y1="525" x2="477.5" y2="528"/><line x1="492.5" y1="525" x2="492.5" y2="527"/><line x1="506.5" y1="525" x2="506.5" y2="527"/><line x1="521.5" y1="525" x2="521.5" y2="528"/><line x1="535.5" y1="525" x2="535.5" y2="527"/><line x1="550.5" y1="525" x2="550.5" y2="527"/><line x1="564.5" y1="525" x2="564.5" y2="528"/><line x1="579.5" y1="525" x2="579.5" y2="527"/><line x1="594.5" y1="525" x2="594.5" y2="527"/><line x1="608.5" y1="525" x2="608.5" y2="528"/><line x1="623.5" y1="525" x2="623.5" y2="527"/><line x1="637.5" y1="525" x2="637.5" y2="527"/><line x1="653.5" y1="525" x2="653.5" y2="528"/><line x1="667.5" y1="525" x2="667.5" y2="527"/><line x1="680.5" y1="525" x2="680.5" y2="527"/><line x1="695.5" y1="525" x2="695.5" y2="528"/><line x1="710.5" y1="525" x2="710.5" y2="527"/><line x1="724.5" y1="525" x2="724.5" y2="527"/><line x1="739.5" y1="525" x2="739.5" y2="528"/><line x1="753.5" y1="525" x2="753.5" y2="527"/><line x1="768.5" y1="525" x2="768.5" y2="527"/><line x1="783.5" y1="525" x2="783.5" y2="528"/><line x1="797.5" y1="525" x2="797.5" y2="527"/><line x1="812.5" y1="525" x2="812.5" y2="527"/><line x1="827.5" y1="525" x2="827.5" y2="528"/><line x1="841.5" y1="525" x2="841.5" y2="527"/><line x1="855.5" y1="525" x2="855.5" y2="527"/><line x1="870.5" y1="525" x2="870.5" y2="528"/><line x1="884.5" y1="525" x2="884.5" y2="527"/>
</g>
<g font-size="14" fill="#000">
<text x="900.2" y="511.0" textLength="38.6" lengthAdjust="spacing">20000</text><text x="900.2" y="415.0" textLength="38.6" lengthAdjust="spacing">30000</text><text x="900.2" y="319.0" textLength="38.6" lengthAdjust="spacing">40000</text><text x="900.2" y="222.0" textLength="38.6" lengthAdjust="spacing">50000</text><text x="900.2" y="126.0" textLength="38.6" lengthAdjust="spacing">60000</text><text x="900.2" y="30.0" textLength="38.6" lengthAdjust="spacing">70000</text>
<text x="40.4" y="540" text-anchor="middle">Jul</text><text x="84.9" y="540" text-anchor="middle">Oct</text><text x="130.9" y="540" text-anchor="middle">2006</text><text x="171.8" y="540" text-anchor="middle">Apr</text><text x="214.4" y="540" text-anchor="middle">Jul</text><text x="259.9" y="540" text-anchor="middle">Oct</text><text x="303.9" y="540" text-anchor="middle">2007</text><text x="346.8" y="540" text-anchor="middle">Apr</text><text x="389.4" y="540" text-anchor="middle">Jul</text><text x="432.9" y="540" text-anchor="middle">Oct</text><text x="478.9" y="540" text-anchor="middle">2008</text><text x="520.8" y="540" text-anchor="middle">Apr</text><text x="563.4" y="540" text-anchor="middle">Jul</text><text x="607.9" y="540" text-anchor="middle">Oct</text><text x="654.9" y="540" text-anchor="middle">2009</text><text x="694.8" y="540" text-anchor="middle">Apr</text><text x="738.4" y="540" text-anchor="middle">Jul</text><text x="782.9" y="540" text-anchor="middle">Oct</text><text x="828.9" y="540" text-anchor="middle">2010</text><text x="869.8" y="540" text-anchor="middle">Apr</text>
</g>
<g font-size="15">
<text x="17.6" y="14" fill="#000" textLength="55.9" lengthAdjust="spacing">Warsaw</text>
<text x="77.1" y="14" fill="#000" textLength="37.6" lengthAdjust="spacing">Stock</text>
<text x="118.4" y="14" fill="#000" textLength="61.2" lengthAdjust="spacing">Exchange</text>
<text x="182.4" y="14" fill="#000" textLength="32.2" lengthAdjust="spacing">WIG</text>
<text x="217.4" y="14" fill="#000" textLength="34.2" lengthAdjust="spacing">Total</text>
<text x="255.4" y="14" fill="#000" textLength="43.2" lengthAdjust="spacing">Return</text>
<text x="303.4" y="14" fill="#000" textLength="33.2" lengthAdjust="spacing">Index</text>
<text x="342.4" y="14" fill="#000" textLength="38.9" lengthAdjust="spacing">(WIG)</text>
<text x="385.1" y="14" fill="#000" textLength="51.9" lengthAdjust="spacing">39923.6</text>
<text x="440.4" y="14" fill="#c00000" textLength="57.2" lengthAdjust="spacing">-1046.54</text>
<text x="656.2" y="14" fill="#000" textLength="145.9" lengthAdjust="spacing">www.fullermoney.com</text>
<text x="822.6" y="14" fill="#000" textLength="7.2" lengthAdjust="spacing">7</text>
<text x="833.4" y="14" fill="#000" textLength="25.7" lengthAdjust="spacing">May</text>
<text x="863.4" y="14" fill="#000" textLength="32.2" lengthAdjust="spacing">2010</text>
</g>
<text x="22" y="40" font-size="14" fill="#0000d0">Weekly</text>
<text x="22" y="57" font-size="14" fill="#a01818">EMA 200</text>
<text x="760" y="554.5" font-size="9.5" fill="#858585" stroke="none" textLength="135" lengthAdjust="spacing">© 2010 Stockcube Research Ltd</text>
</svg>
</body></html>
